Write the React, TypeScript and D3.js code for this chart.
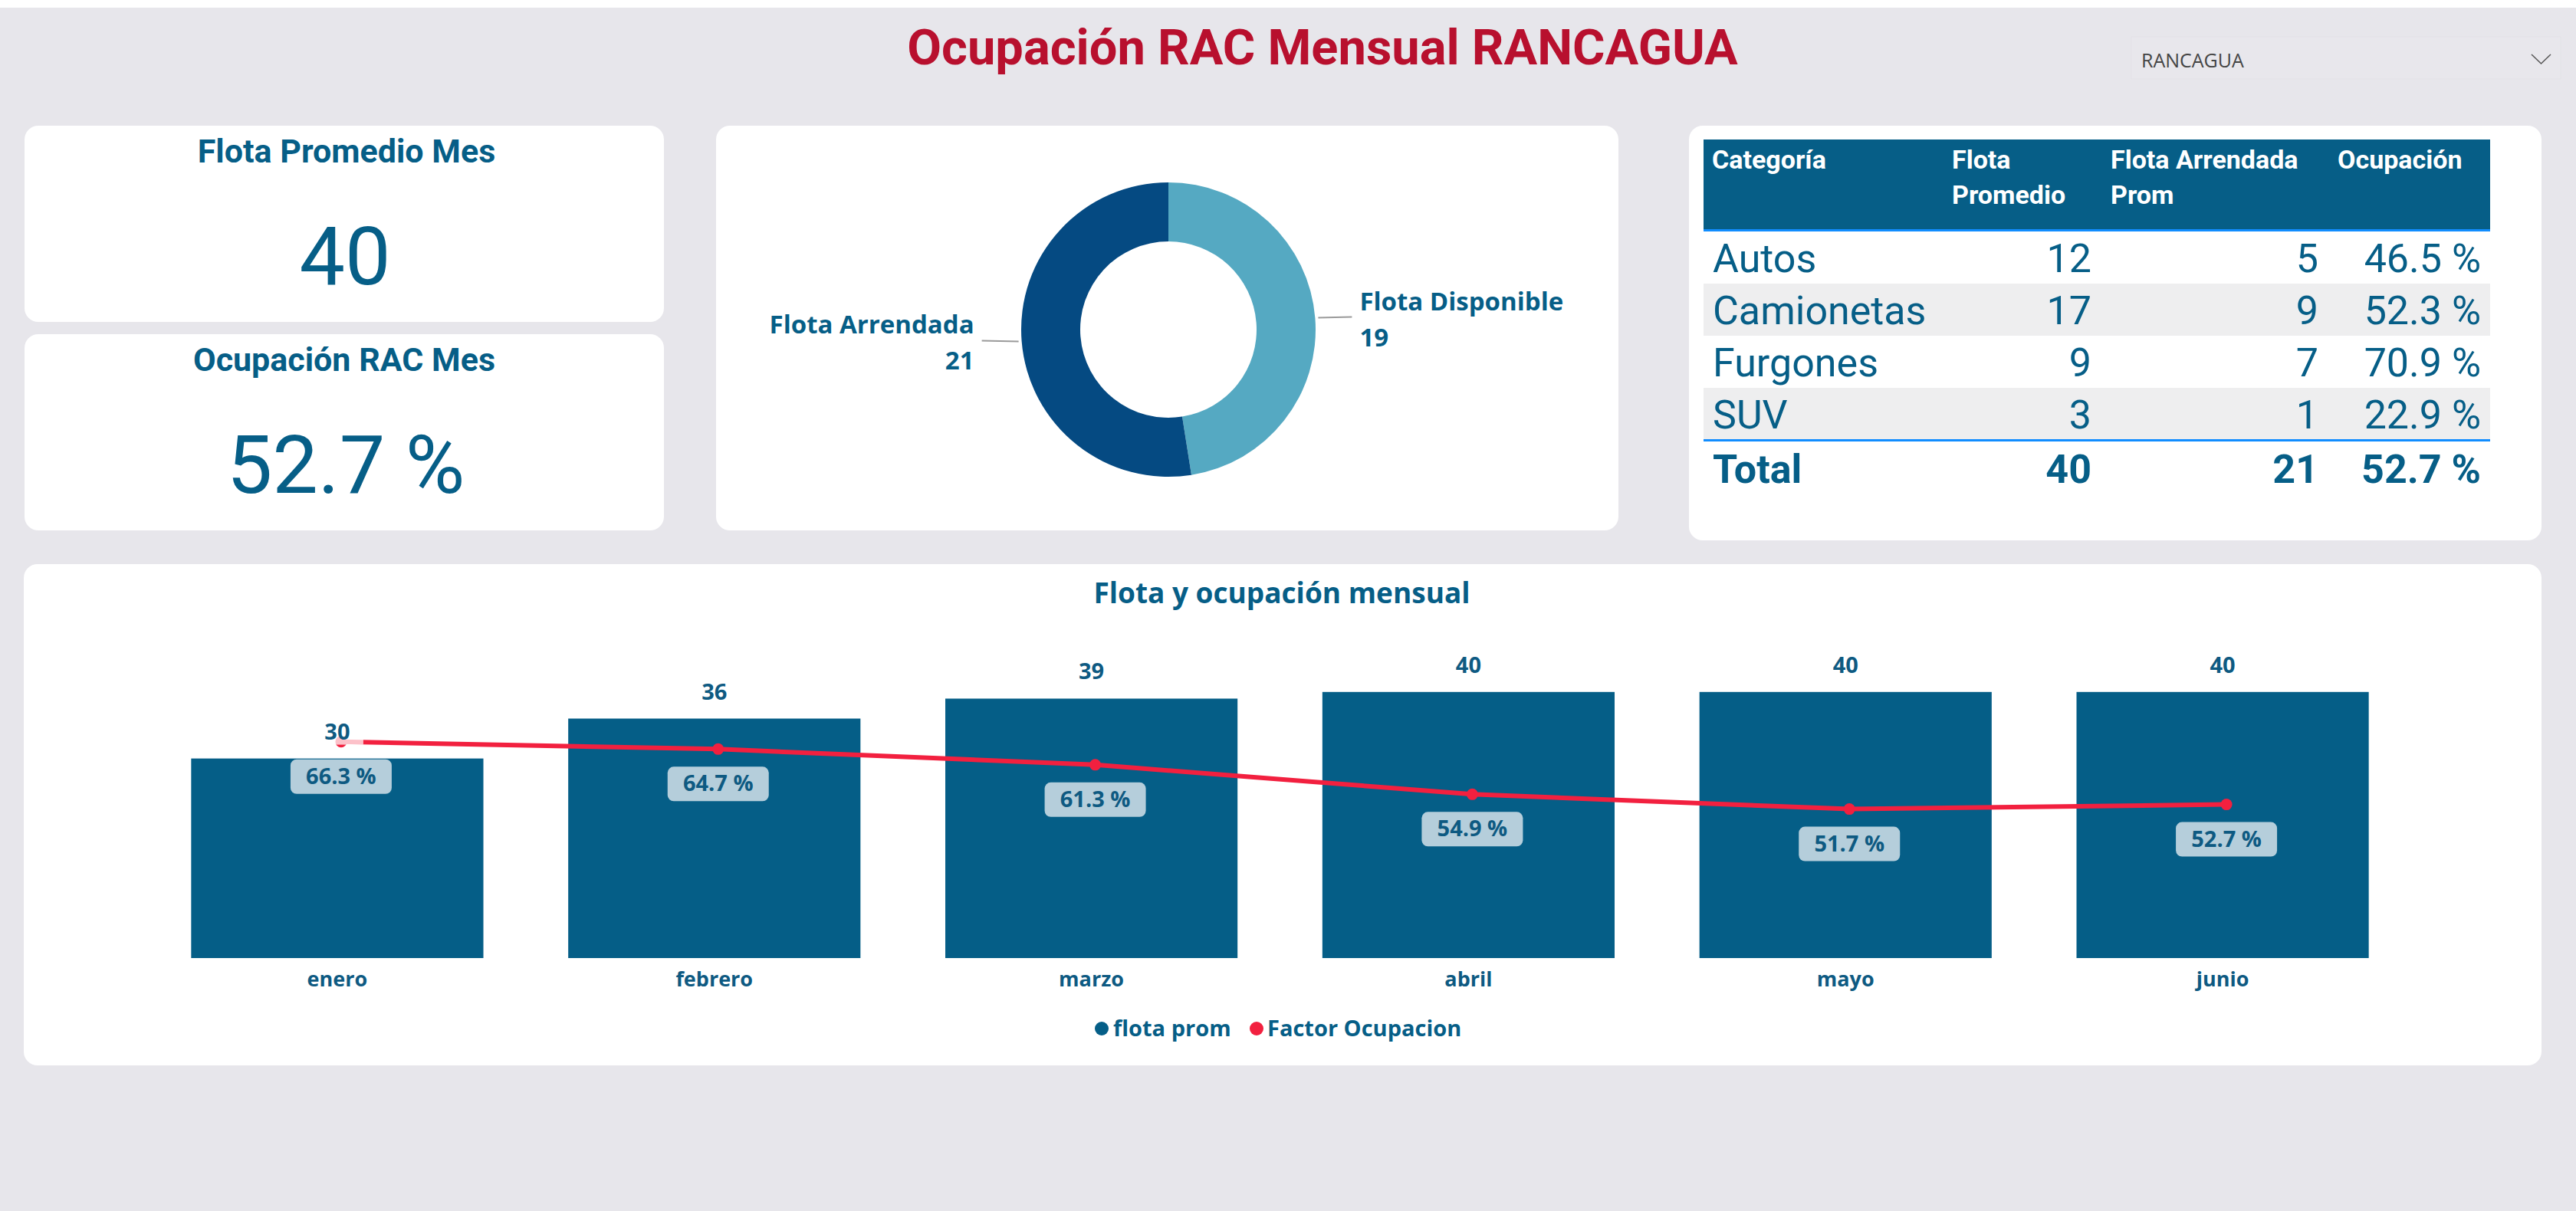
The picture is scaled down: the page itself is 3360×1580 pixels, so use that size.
import * as d3 from 'd3';

// Monthly fleet and occupancy
const months = ['enero', 'febrero', 'marzo', 'abril', 'mayo', 'junio'];
const flotaProm = [30, 36, 39, 40, 40, 40];
const factorOcupacion = [66.3, 64.7, 61.3, 54.9, 51.7, 52.7];

// Donut: leased vs available fleet
const donutLabels = ['Flota Disponible', 'Flota Arrendada'];
const donutValues = [19, 21];

// Category table
const tableHeaders = [['Categoría'], ['Flota', 'Promedio'], ['Flota Arrendada', 'Prom'], ['Ocupación']];
const categorias = ['Autos', 'Camionetas', 'Furgones', 'SUV'];
const flotaPromedioCat = [12, 17, 9, 3];
const flotaArrendadaCat = [5, 9, 7, 1];
const ocupacionCat = [46.5, 52.3, 70.9, 22.9];
const totalRow = ['Total', 40, 21, 52.7];

// KPI cards
const kpiFlota = 40;
const kpiOcupacion = 52.7;

const W = 3360;
const H = 1580;
const BG = '#E7E6EB';
const BLUE = '#065E87';
const DARK = '#0E5A82';
const RED = '#F2203F';
const DIN = "Roboto, 'Noto Sans', sans-serif";
const SEGOE = "'Open Sans', 'Noto Sans', sans-serif";

const pct = (v: number) => `${d3.format('.1f')(v)} %`;

function Card({ x, y, w, h }: { x: number; y: number; w: number; h: number }) {
  return <rect x={x} y={y} width={w} height={h} rx={18} fill="#fff" />;
}

function Donut() {
  const cx = 1524;
  const cy = 430;
  const outer = 192;
  const inner = 115;
  const colors = ['#55A9C2', '#054A82'];
  const arcs = d3.pie<number>().sort(null)(donutValues);
  const arc = d3.arc<d3.PieArcDatum<number>>().innerRadius(inner).outerRadius(outer);

  return (
    <g transform={`translate(${cx},${cy})`}>
      {arcs.map((a, i) => (
        <path key={i} d={arc(a) ?? ''} fill={colors[i]} />
      ))}
      {arcs.map((a, i) => {
        const mid = (a.startAngle + a.endAngle) / 2;
        const px = Math.sin(mid) * (outer + 4);
        const py = -Math.cos(mid) * (outer + 4);
        const right = px > 0;
        const ex = right ? px + 44 : px - 48;
        const tx = right ? ex + 10 : ex - 10;
        return (
          <g key={`l${i}`} fontFamily={SEGOE} fontWeight={700} fontSize={33} fill={BLUE} textAnchor={right ? 'start' : 'end'}>
            <polyline points={`${px},${py} ${ex},${py - 1}`} fill="none" stroke="#9a9a9a" strokeWidth={2} />
            <text x={tx} y={py - 10}>{donutLabels[i]}</text>
            <text x={tx} y={py + 37}>{donutValues[i]}</text>
          </g>
        );
      })}
    </g>
  );
}

function CategoryTable() {
  const left = 2222;
  const right = 3248;
  const rows = d3.scaleBand().domain(categorias).range([302, 574]);
  const colRight = [0, 2728, 3024, 3236];
  const headX = [2233, 2546, 2753, 3049];

  return (
    <g fill={BLUE} fontFamily={DIN}>
      <rect x={left} y={182} width={right - left} height={118} fill={BLUE} />
      <rect x={left} y={299} width={right - left} height={3} fill="#118DFF" />
      {tableHeaders.map((lines, i) =>
        lines.map((t, j) => (
          <text key={`${i}-${j}`} x={headX[i]} y={220 + j * 46} fill="#fff" fontWeight={700} fontSize={34}>
            {t}
          </text>
        ))
      )}
      {categorias.map((c, i) => {
        const y0 = rows(c) ?? 0;
        const base = y0 + 53;
        return (
          <g key={c}>
            {i % 2 === 1 && <rect x={left} y={y0} width={right - left} height={rows.bandwidth()} fill="#EEEEEF" />}
            <text x={2234} y={base} fontSize={52}>{c}</text>
            <text x={colRight[1]} y={base} fontSize={52} textAnchor="end">{flotaPromedioCat[i]}</text>
            <text x={colRight[2]} y={base} fontSize={52} textAnchor="end">{flotaArrendadaCat[i]}</text>
            <text x={colRight[3]} y={base} fontSize={52} textAnchor="end">{pct(ocupacionCat[i])}</text>
          </g>
        );
      })}
      <rect x={left} y={573} width={right - left} height={3} fill="#118DFF" />
      <g fontSize={52} fontWeight={700}>
        <text x={2234} y={630}>{totalRow[0]}</text>
        <text x={colRight[1]} y={630} textAnchor="end">{totalRow[1]}</text>
        <text x={colRight[2]} y={630} textAnchor="end">{totalRow[2]}</text>
        <text x={colRight[3]} y={630} textAnchor="end">{pct(totalRow[3] as number)}</text>
      </g>
    </g>
  );
}

function MonthlyChart() {
  const x = d3.scaleBand().domain(months).range([194, 3145]).paddingInner(0.225).paddingOuter(0.1125);
  const yBar = d3.scaleLinear().domain([0, 45]).range([1250, 859.4]);
  const yOcc = d3.scaleLinear().domain([19.4, 84.3]).range([1250, 859.4]);
  const cxOf = (m: string) => (x(m) ?? 0) + x.bandwidth() / 2;
  const line = d3
    .line<number>()
    .x((_, i) => cxOf(months[i]) + 5)
    .y((v) => yOcc(v));

  return (
    <g>
      <text x={1672} y={787} textAnchor="middle" fontFamily={SEGOE} fontWeight={700} fontSize={37} fill={BLUE}>
        Flota y ocupación mensual
      </text>
      {months.map((m, i) => (
        <rect key={m} x={x(m)} y={yBar(flotaProm[i])} width={x.bandwidth()} height={yBar(0) - yBar(flotaProm[i])} fill="#055E87" />
      ))}
      {months.map((m) => (
        <text key={`m${m}`} x={cxOf(m)} y={1287} textAnchor="middle" fontFamily={SEGOE} fontWeight={700} fontSize={27} fill={DARK}>
          {m}
        </text>
      ))}
      <path d={line(factorOcupacion) ?? ''} fill="none" stroke={RED} strokeWidth={6} strokeLinejoin="round" />
      {factorOcupacion.map((v, i) => (
        <circle key={`p${i}`} cx={cxOf(months[i]) + 5} cy={yOcc(v)} r={7.5} fill={RED} />
      ))}
      {/* bar value labels sit on a translucent white box over the line */}
      {months.map((m, i) => (
        <g key={`v${m}`}>
          <rect x={cxOf(m) - 34} y={yBar(flotaProm[i]) - 60} width={68} height={42} fill="#fff" opacity={0.72} />
          <text x={cxOf(m)} y={yBar(flotaProm[i]) - 25} textAnchor="middle" fontFamily={SEGOE} fontWeight={700} fontSize={29} fill={DARK}>
            {flotaProm[i]}
          </text>
        </g>
      ))}
      {factorOcupacion.map((v, i) => {
        const cx = cxOf(months[i]) + 5;
        const top = yOcc(v) + 23;
        return (
          <g key={`o${i}`}>
            <rect x={cx - 66} y={top} width={132} height={45} rx={8} fill="#B5CEDB" />
            <text x={cx} y={top + 32} textAnchor="middle" fontFamily={SEGOE} fontWeight={700} fontSize={29} fill={DARK}>
              {pct(v)}
            </text>
          </g>
        );
      })}
      <g fontFamily={SEGOE} fontWeight={700} fontSize={29} fill={BLUE}>
        <circle cx={1437} cy={1342} r={9} fill="#055E87" />
        <text x={1452} y={1352}>flota prom</text>
        <circle cx={1639} cy={1342} r={9} fill={RED} />
        <text x={1653} y={1352}>Factor Ocupacion</text>
      </g>
    </g>
  );
}

export default function App() {
  return (
    <svg width={W} height={H} viewBox={`0 0 ${W} ${H}`} style={{ position: 'absolute', left: 0, top: 0 }}>
      <rect width={W} height={H} fill={BG} />
      <rect width={W} height={10} fill="#fff" />
      <text x={1725} y={84} textAnchor="middle" fontFamily={DIN} fontWeight={700} fontSize={65} fill="#B8102E">
        Ocupación RAC Mensual RANCAGUA
      </text>

      <rect x={2780} y={48} width={560} height={55} fill="#E8E7EC" stroke="#E3E2E7" />
      <text x={2793} y={88} fontFamily={SEGOE} fontSize={25} fill="#444">RANCAGUA</text>
      <polyline points="3302,71 3314.5,83 3327,71" fill="none" stroke="#555" strokeWidth={1.5} />

      <Card x={32} y={164} w={834} h={256} />
      <Card x={32} y={436} w={834} h={256} />
      <Card x={934} y={164} w={1177} h={528} />
      <Card x={2203} y={164} w={1112} h={541} />
      <Card x={31} y={736} w={3284} h={654} />

      <g fontFamily={DIN} fill={BLUE} textAnchor="middle">
        <text x={452} y={212} fontWeight={700} fontSize={43}>Flota Promedio Mes</text>
        <text x={450} y={371} fontSize={106}>{kpiFlota}</text>
        <text x={449} y={484} fontWeight={700} fontSize={43}>Ocupación RAC Mes</text>
        <text x={451} y={643} fontSize={106}>{pct(kpiOcupacion)}</text>
      </g>

      <Donut />
      <CategoryTable />
      <MonthlyChart />
    </svg>
  );
}
